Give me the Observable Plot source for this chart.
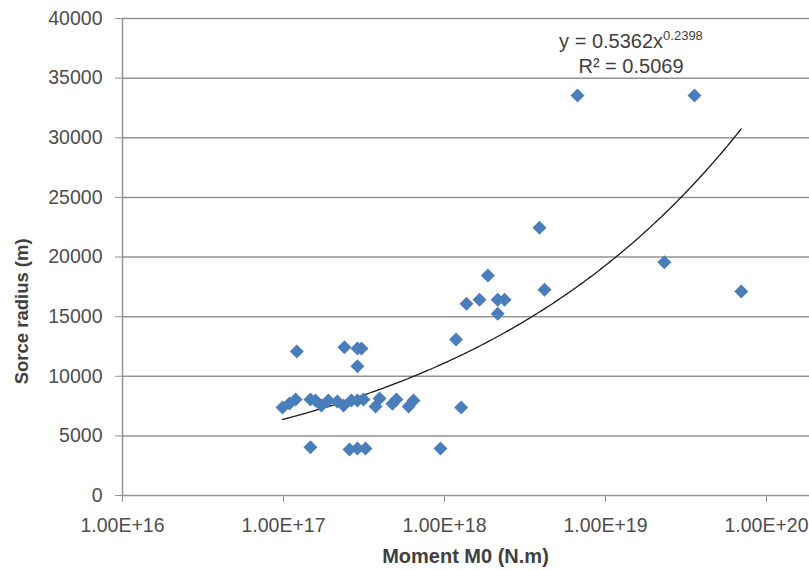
<!DOCTYPE html>
<html>
<head>
<meta charset="utf-8">
<script src="https://cdn.jsdelivr.net/npm/d3@7"></script>
<script src="https://cdn.jsdelivr.net/npm/@observablehq/plot@0.6"></script>
<style>
  html, body { margin: 0; padding: 0; background: #fff; }
  #chart { width: 809px; height: 570px; }
</style>
</head>
<body>
<div id="chart"></div>
<script>
// ---- data ----
const xTicks = [1e16, 1e17, 1e18, 1e19, 1e20];
const yTicks = [0, 5000, 10000, 15000, 20000, 25000, 30000, 35000, 40000];

const moment = [
  9.86e16, 1.09e17, 1.19e17, 1.21e17, 1.47e17, 1.47e17, 1.58e17, 1.72e17,
  1.90e17, 2.16e17, 2.36e17, 2.39e17, 2.57e17, 2.64e17, 2.88e17, 2.88e17,
  2.88e17, 2.88e17, 3.05e17, 3.14e17, 3.23e17, 3.73e17, 3.95e17, 4.75e17,
  5.03e17, 5.98e17, 6.42e17, 9.44e17, 1.18e18, 1.27e18, 1.37e18, 1.65e18,
  1.86e18, 2.14e18, 2.14e18, 2.36e18, 3.89e18, 4.18e18, 6.70e18, 2.32e19,
  3.57e19, 6.97e19
];
const radius = [
  7380, 7715, 8050, 12080, 8050, 4050, 7970, 7550,
  7970, 7880, 7550, 12430, 3860, 7970, 12330, 10840,
  3940, 7970, 12330, 8050, 3940, 7460, 8130, 7700,
  8050, 7460, 7960, 3940, 13080, 7380, 16080, 16410,
  18450, 16410, 15240, 16410, 22450, 17250, 33550, 19560,
  33550, 17110
];

// power trendline shown in the chart: y = a * x^b
const trendA = 0.5362;
const trendB = 0.2398;
const trendR2 = 0.5069;

const xLabel = "Moment M0 (N.m)";
const yLabel = "Sorce radius (m)";

// ---- build ----
const points = moment.map((m, i) => ({m, r: radius[i]}));
const [mMin, mMax] = d3.extent(moment);
const trend = d3.range(0, 201).map(i => {
  const lm = Math.log10(mMin) + (Math.log10(mMax) - Math.log10(mMin)) * i / 200;
  const m = Math.pow(10, lm);
  return {m, r: trendA * Math.pow(m, trendB)};
});

const font = "'Liberation Sans', Arial, sans-serif";
const grey = "#4d4d4d";

const chart = Plot.plot({
  width: 809,
  height: 570,
  marginLeft: 122,
  marginRight: 0,
  marginTop: 18,
  marginBottom: 75,
  style: {fontFamily: font, fontSize: "19.5px", color: grey, background: "#fff"},
  x: {type: "log", domain: [1e16, 1e20 * Math.pow(10, 43 / 161)]},
  y: {domain: [0, 40000]},
  marks: [
    Plot.ruleY(yTicks, {stroke: "#939393", strokeWidth: 1.5}),
    Plot.ruleX([1e16], {stroke: "#939393", strokeWidth: 1.5}),
    Plot.axisY({ticks: yTicks, tickSize: 7, tickPadding: 13, tickFormat: d => String(d),
                stroke: "#939393", fontSize: 19.5, label: null}),
    Plot.axisX({ticks: xTicks, tickSize: 7, tickPadding: 16,
                tickFormat: d => "1.00E+" + Math.round(Math.log10(d)),
                stroke: "#939393", fontSize: 19.5, label: null}),
    Plot.line(trend, {x: "m", y: "r", stroke: "#1a1a1a", strokeWidth: 1.3}),
    Plot.dot(points, {x: "m", y: "r", symbol: "diamond2", r: 6.3, fill: "#4a7ebb", stroke: "none"})
  ]
});

document.getElementById("chart").appendChild(chart);

// ---- titles and trend annotation, placed with the chart's own scales ----
const svg = d3.select(chart);
const sx = chart.scale("x"), sy = chart.scale("y");

svg.append("text")
  .attr("x", (sx.apply(1e16) + 809) / 2)
  .attr("y", 563)
  .attr("text-anchor", "middle")
  .style("font", `bold 20px ${font}`)
  .attr("fill", "#404040")
  .text(xLabel);

svg.append("text")
  .attr("transform", `translate(28, ${sy.apply(15400)}) rotate(-90)`)
  .attr("text-anchor", "middle")
  .style("font", `bold 18.5px ${font}`)
  .attr("fill", "#404040")
  .text(yLabel);

const eqX = sx.apply(1.45e19);
const eq = svg.append("text")
  .attr("x", eqX)
  .attr("y", sy.apply(37500))
  .attr("text-anchor", "middle")
  .style("font", `20px ${font}`)
  .attr("fill", "#404040");
eq.append("tspan").text("y = " + trendA + "x");
eq.append("tspan").attr("dy", -8).style("font-size", "13px").text(trendB);

svg.append("text")
  .attr("x", eqX)
  .attr("y", sy.apply(35400))
  .attr("text-anchor", "middle")
  .style("font", `20px ${font}`)
  .attr("fill", "#404040")
  .text("R² = " + trendR2);
</script>
</body>
</html>
